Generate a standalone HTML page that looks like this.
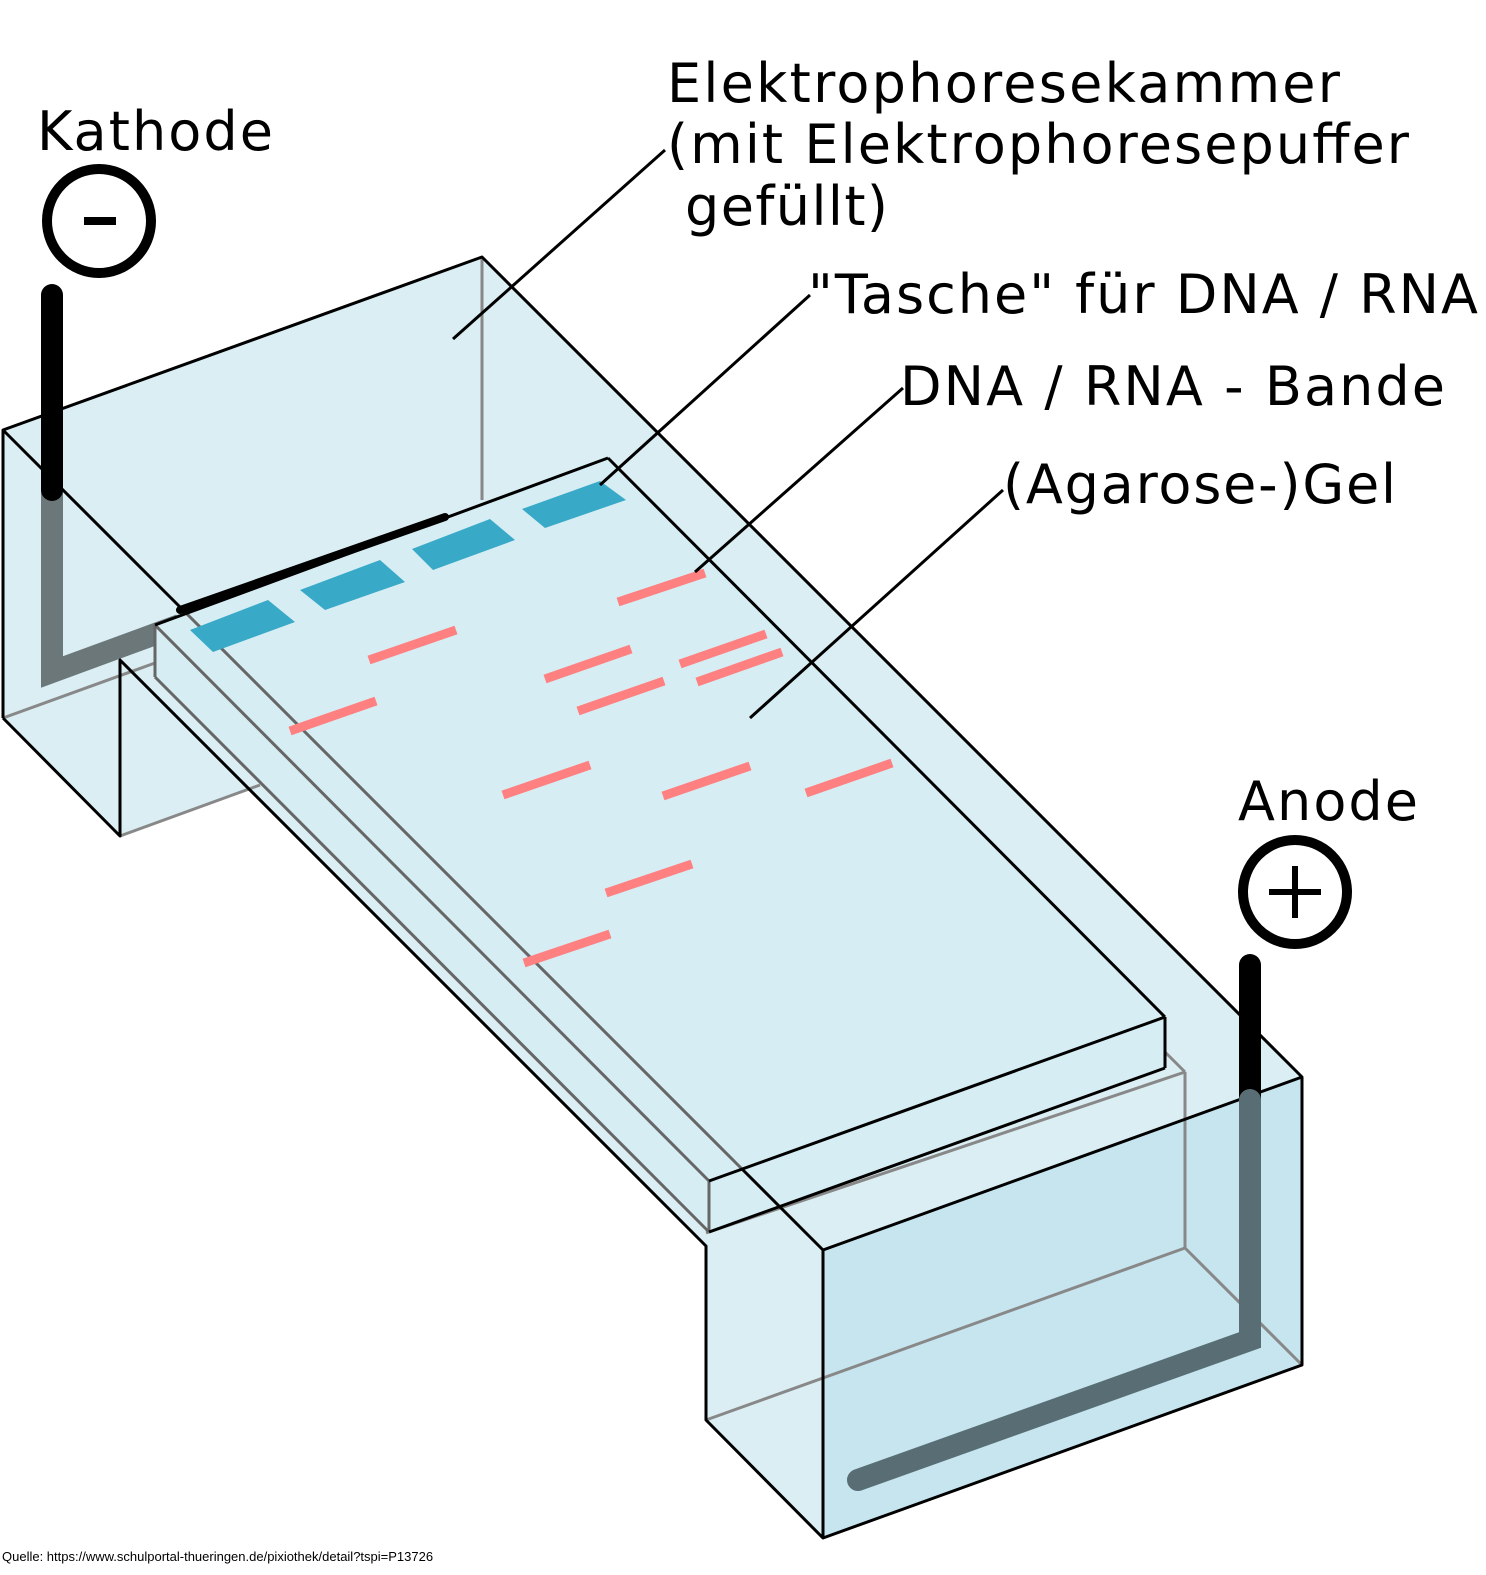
<!DOCTYPE html>
<html><head><meta charset="utf-8"><style>html,body{margin:0;padding:0;background:#fff}svg{display:block}</style></head>
<body>
<svg width="1486" height="1575" viewBox="0 0 1486 1575" xmlns="http://www.w3.org/2000/svg">
<!-- chamber body -->
<polygon points="3,430 482,257 1302,1077 1302,1365 823,1538 706,1420 706,1246 120,660 120,836 3,718" fill="#daeef4"/>
<polygon points="120,660 160,645 270,780 120,836" fill="#daeef4"/>
<!-- front right box face -->
<polygon points="823,1250 1302,1077 1302,1365 823,1538" fill="#c6e5ef"/>
<!-- gray hidden lines -->
<g stroke="#888" stroke-width="3" fill="none">
<line x1="482" y1="257" x2="482" y2="500"/>
<line x1="3" y1="718" x2="155" y2="663"/>
<line x1="120" y1="836" x2="260" y2="785"/>
<line x1="1185" y1="1072" x2="1185" y2="1248"/>
<line x1="1185" y1="1248" x2="706" y2="1420"/>
<line x1="1185" y1="1248" x2="1302" y2="1365"/>
<line x1="706" y1="1233" x2="1185" y2="1072"/>
<line x1="1165" y1="1052" x2="1185" y2="1072"/>
</g>
<!-- cathode lower (gray, submerged) -->
<polyline points="52,490 52,672 180,625" fill="none" stroke="#6b7779" stroke-width="22"/>
<!-- gel -->
<polygon points="155,625 608,458 1165,1017 1165,1068 709,1232 155,677" fill="#d6edf3"/>
<g stroke="#666" stroke-width="3" fill="none">
<line x1="155" y1="625" x2="709" y2="1181"/>
<line x1="155" y1="677" x2="709" y2="1232"/>
<line x1="155" y1="625" x2="155" y2="677"/>
<line x1="709" y1="1181" x2="709" y2="1232"/>
<line x1="180" y1="607" x2="742" y2="1169"/>
</g>
<g stroke="#000" stroke-width="3" fill="none">
<line x1="608" y1="458" x2="1165" y2="1017"/>
<line x1="1165" y1="1017" x2="709" y2="1181"/>
<line x1="1165" y1="1017" x2="1165" y2="1068"/>
<line x1="1165" y1="1068" x2="709" y2="1232"/>
<line x1="155" y1="625" x2="608" y2="458"/>
</g>
<line x1="180" y1="610" x2="445" y2="517" stroke="#000" stroke-width="8" stroke-linecap="round"/>
<!-- wells -->
<g fill="#38a9c7">
<polygon points="190,630 268,600 295,622 213,652"/>
<polygon points="300,590 380,560 405,582 325,610"/>
<polygon points="412,549 490,519 515,540 433,570"/>
<polygon points="522,509 600,481 626,500 545,528"/>
</g>
<!-- bands -->
<g stroke="#ff8080" stroke-width="9">
<line x1="369" y1="660" x2="456" y2="630"/>
<line x1="290" y1="731" x2="376" y2="701"/>
<line x1="545" y1="679" x2="631" y2="649"/>
<line x1="578" y1="711" x2="664" y2="681"/>
<line x1="618" y1="602" x2="705" y2="573"/>
<line x1="680" y1="664" x2="766" y2="634"/>
<line x1="697" y1="682" x2="782" y2="652"/>
<line x1="503" y1="795" x2="590" y2="765"/>
<line x1="663" y1="796" x2="750" y2="766"/>
<line x1="806" y1="793" x2="892" y2="763"/>
<line x1="606" y1="893" x2="692" y2="864"/>
<line x1="524" y1="963" x2="610" y2="934"/>
</g>
<!-- chamber outlines -->
<g stroke="#000" stroke-width="3" fill="none" stroke-linejoin="round">
<polyline points="3,718 3,430 482,257 1302,1077 1302,1365 823,1538 706,1420 706,1246 120,660 120,836 3,718"/>
<line x1="3" y1="430" x2="180" y2="607"/>
<line x1="742" y1="1169" x2="823" y2="1250"/>
<line x1="823" y1="1250" x2="1302" y2="1077"/>
<line x1="823" y1="1250" x2="823" y2="1538"/>
</g>
<!-- cathode upper -->
<line x1="52" y1="295" x2="52" y2="490" stroke="#000" stroke-width="22" stroke-linecap="round"/>
<!-- anode -->
<line x1="1250" y1="965" x2="1250" y2="1100" stroke="#000" stroke-width="22" stroke-linecap="round"/>
<polyline points="1250,1100 1250,1340 858,1480" fill="none" stroke="#596e74" stroke-width="22" stroke-linecap="round"/>
<!-- circles -->
<circle cx="99" cy="221" r="52" fill="none" stroke="#000" stroke-width="10"/>
<line x1="84" y1="221" x2="116" y2="221" stroke="#000" stroke-width="8"/>
<circle cx="1295" cy="892" r="52" fill="none" stroke="#000" stroke-width="10"/>
<line x1="1269" y1="892" x2="1321" y2="892" stroke="#000" stroke-width="6"/>
<line x1="1295" y1="866" x2="1295" y2="918" stroke="#000" stroke-width="6"/>
<!-- leaders -->
<g stroke="#000" stroke-width="3">
<line x1="453" y1="339" x2="665" y2="150"/>
<line x1="600" y1="485" x2="810" y2="295"/>
<line x1="695" y1="572" x2="903" y2="388"/>
<line x1="750" y1="718" x2="1003" y2="490"/>
</g>
<!-- text -->
<g font-family="'DejaVu Sans', 'Liberation Sans', sans-serif" font-size="54" fill="#000">
<text x="37" y="150" textLength="236">Kathode</text>
<text x="667" y="102" textLength="673">Elektrophoresekammer</text>
<text x="667" y="163" textLength="742">(mit Elektrophoresepuffer</text>
<text x="685" y="225" textLength="203">gefüllt)</text>
<text x="808" y="313" textLength="670">"Tasche" für DNA / RNA</text>
<text x="900" y="405" textLength="545">DNA / RNA - Bande</text>
<text x="1003" y="503" textLength="393">(Agarose-)Gel</text>
<text x="1238" y="820" textLength="180">Anode</text>
</g>
<text x="2" y="1561" font-family="'Liberation Sans', sans-serif" font-size="13" fill="#000">Quelle: https://www.schulportal-thueringen.de/pixiothek/detail?tspi=P13726</text>
</svg>
</body></html>
